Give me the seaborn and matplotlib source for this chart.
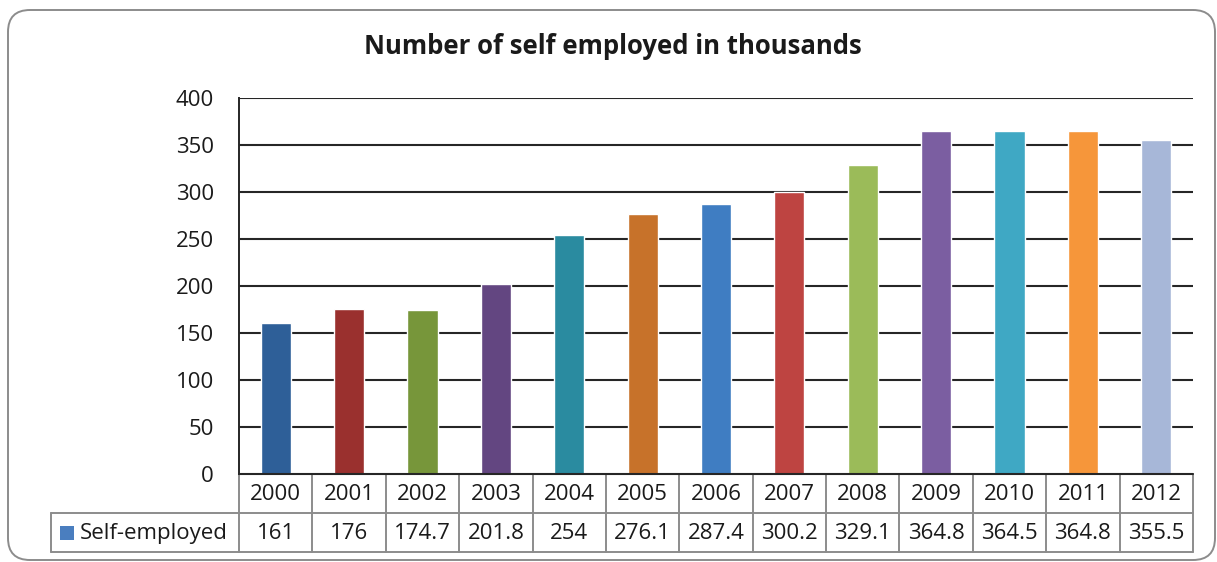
import matplotlib
matplotlib.use("Agg")
import matplotlib.pyplot as plt
from matplotlib.patches import FancyBboxPatch, Rectangle
from matplotlib.lines import Line2D
import matplotlib.transforms as mtransforms
import seaborn as sns
import pandas as pd

# Data
years = ["2000", "2001", "2002", "2003", "2004", "2005", "2006",
         "2007", "2008", "2009", "2010", "2011", "2012"]
self_employed = [161, 176, 174.7, 201.8, 254, 276.1, 287.4,
                 300.2, 329.1, 364.8, 364.5, 364.8, 355.5]
value_labels = ["161", "176", "174.7", "201.8", "254", "276.1", "287.4",
                "300.2", "329.1", "364.8", "364.5", "364.8", "355.5"]
series_name = "Self-employed"
title = "Number of self employed in thousands"
y_ticks = [0, 50, 100, 150, 200, 250, 300, 350, 400]

bar_colors = ["#2E5F98", "#9A302E", "#77963A", "#634681", "#2A8BA0",
              "#C7722A", "#3F7DC2", "#BE4441", "#9BBB59", "#7B5EA1",
              "#3FA8C4", "#F6963A", "#A7B7D8"]
key_color = "#4A7EBF"

sns.set_theme(style="white")
plt.rcParams["font.family"] = ["Open Sans", "DejaVu Sans"]

W, H = 1217, 562
TXT = 16
fig = plt.figure(figsize=(W / 100, H / 100), dpi=100)

# Rounded chart frame
frame = FancyBboxPatch((0.08, 0.02), (1215 - 8) / 100, (560 - 10) / 100,
                       boxstyle="round,pad=0,rounding_size=0.22",
                       transform=fig.dpi_scale_trans, facecolor="white",
                       edgecolor="#8C8C8C", linewidth=1.4, zorder=-10)
fig.patches.append(frame)

ax_l, ax_r, ax_t, ax_b = 239, 1193, 98, 474
ax = fig.add_axes([ax_l / W, (H - ax_b) / H, (ax_r - ax_l) / W, (ax_b - ax_t) / H])
ax.set_facecolor("none")
ax.set_zorder(2)

df = pd.DataFrame({"year": years, "value": self_employed})
sns.barplot(data=df, x="year", y="value", hue="year", palette=bar_colors,
            width=0.41, legend=False, saturation=1, ax=ax, zorder=3)

ax.set_xlim(-0.5, len(years) - 0.5)
ax.set_ylim(0, 400)
ax.set_yticks(y_ticks)
ax.set_yticklabels([str(t) for t in y_ticks], fontsize=TXT, color="#1a1a1a")
ax.tick_params(axis="y", length=0, pad=18)
ax.set_xticks([])
ax.set_xlabel("")
ax.set_ylabel("")
for t in y_ticks[1:]:
    ax.axhline(t, color="#262626", linewidth=1.5, zorder=1)
for side in ["top", "right", "bottom"]:
    ax.spines[side].set_visible(False)
ax.spines["left"].set_color("#262626")
ax.spines["left"].set_linewidth(1.4)

# Data table under the plot
trans = mtransforms.blended_transform_factory(ax.transData, fig.transFigure)
row_h = 39
y0 = (H - ax_b) / H
y1 = (H - ax_b - row_h) / H
y2 = (H - ax_b - 2 * row_h) / H
grid_c = "#8C8C8C"
lw = 1.4
n = len(years)

# Horizontal table lines
fig.add_artist(Line2D([-0.5, n - 0.5], [y0, y0], transform=trans,
                      color="#262626", linewidth=1.5, zorder=4))
left_fig = 51 / W
fig.add_artist(Line2D([left_fig, (ax_r) / W], [y1, y1], transform=fig.transFigure,
                      color=grid_c, linewidth=lw))
fig.add_artist(Line2D([left_fig, (ax_r) / W], [y2, y2], transform=fig.transFigure,
                      color=grid_c, linewidth=lw))
# Vertical table lines
for i in range(n + 1):
    xe = i - 0.5
    fig.add_artist(Line2D([xe, xe], [y0, y2], transform=trans,
                          color=grid_c, linewidth=lw))
fig.add_artist(Line2D([left_fig, left_fig], [y1, y2], transform=fig.transFigure,
                      color=grid_c, linewidth=lw))

# Cell texts
for i, (yr, lab) in enumerate(zip(years, value_labels)):
    fig.text(i, (y0 + y1) / 2 - 0.002, yr, transform=trans, ha="center", va="center",
             fontsize=TXT, color="#1a1a1a")
    fig.text(i, (y1 + y2) / 2 - 0.002, lab, transform=trans, ha="center", va="center",
             fontsize=TXT, color="#1a1a1a")

# Series key in the row header
key_size = 14
fig.add_artist(Rectangle((60 / W, (y1 + y2) / 2 - key_size / 2 / H),
                         key_size / W, key_size / H, transform=fig.transFigure,
                         facecolor=key_color, edgecolor="none"))
fig.text(80 / W, (y1 + y2) / 2 - 0.002, series_name, ha="left", va="center",
         fontsize=TXT, color="#1a1a1a")

fig.text(0.5035, (H - 47) / H, title, ha="center", va="center",
         fontsize=18.5, fontweight="bold", color="#1a1a1a")

fig.savefig("out.png", dpi=100)
